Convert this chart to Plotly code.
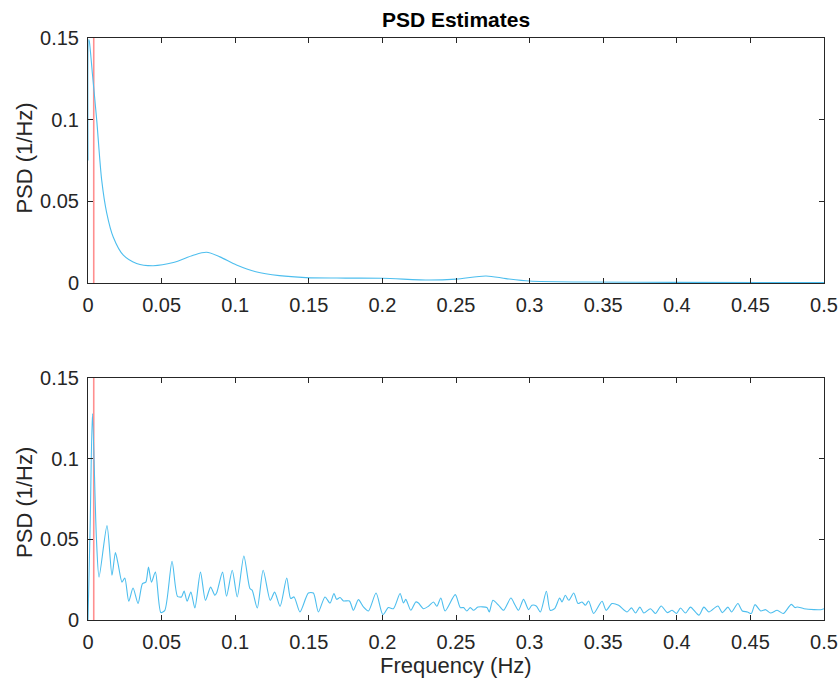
import plotly.graph_objects as go

# ---- data ----
top_freq = [0, 0.0005, 0.0009, 0.003, 0.0059, 0.0093, 0.0127, 0.0172, 0.024, 0.033,
            0.0443, 0.058, 0.0715, 0.0805, 0.0896, 0.1009, 0.114, 0.130, 0.148, 0.175,
            0.2, 0.232, 0.25, 0.2704, 0.284, 0.3, 0.336, 0.4, 0.5]
top_psd = [0.075, 0.149, 0.148, 0.128, 0.100, 0.063, 0.043, 0.028, 0.017, 0.012,
           0.0106, 0.0125, 0.017, 0.0188, 0.016, 0.011, 0.0069, 0.0045, 0.0033, 0.003,
           0.0029, 0.0018, 0.0024, 0.0043, 0.0027, 0.0012, 0.0006, 0.0004, 0.0003]

bot_freq = [0, 0.0015, 0.003, 0.0057, 0.0075, 0.0129, 0.0163, 0.0186, 0.0204, 0.0231,
            0.025, 0.0277, 0.0306, 0.034, 0.037, 0.0393, 0.0411, 0.0431, 0.0458, 0.0495,
            0.0522, 0.0571, 0.0608, 0.0635, 0.0653, 0.0673, 0.0699, 0.0726, 0.0764, 0.0798,
            0.0833, 0.0862, 0.0875, 0.0914, 0.0941, 0.098, 0.1014, 0.1059, 0.11, 0.1115,
            0.115, 0.119, 0.1238, 0.1268, 0.1305, 0.135, 0.1377, 0.1400, 0.144, 0.1497,
            0.1531, 0.1565, 0.161, 0.1644, 0.1671, 0.1689, 0.1712, 0.1735, 0.1776, 0.1803,
            0.1837, 0.1871, 0.1905, 0.1957, 0.2003, 0.2041, 0.2075, 0.212, 0.2143, 0.2159,
            0.2193, 0.2227, 0.2245, 0.2279, 0.2313, 0.2347, 0.2370, 0.2397, 0.2426, 0.2495,
            0.2529, 0.2551, 0.2574, 0.2597, 0.2619, 0.2649, 0.2710, 0.2726, 0.2751, 0.279,
            0.2823, 0.2873, 0.2902, 0.2925, 0.2959, 0.2993, 0.3016, 0.3045, 0.3073, 0.3114,
            0.314, 0.317, 0.3204, 0.322, 0.3243, 0.3266, 0.33, 0.3329, 0.3356, 0.3379,
            0.3401, 0.3435, 0.3492, 0.352, 0.356, 0.3605, 0.3662, 0.3692, 0.372, 0.3749,
            0.3776, 0.3821, 0.3855, 0.3894, 0.3935, 0.3968, 0.3998, 0.4025, 0.4059, 0.4093,
            0.415, 0.4184, 0.4218, 0.4279, 0.4309, 0.4347, 0.4372, 0.4415, 0.4445, 0.448,
            0.4506, 0.4531, 0.457, 0.4604, 0.4637, 0.4682, 0.4724, 0.4778, 0.4803, 0.4819,
            0.4864, 0.4932, 0.4977, 0.5]
bot_psd = [0, 0.06, 0.128, 0.051, 0.0266, 0.0585, 0.0277, 0.0418, 0.035, 0.0235,
           0.026, 0.0116, 0.0198, 0.0102, 0.0225, 0.0235, 0.0328, 0.0235, 0.0297, 0.0046,
           0.006, 0.0364, 0.0147, 0.0143, 0.018, 0.0116, 0.0173, 0.0074, 0.0297, 0.0122,
           0.0204, 0.0153, 0.017, 0.0297, 0.0147, 0.0308, 0.0143, 0.0397, 0.0195, 0.0185,
           0.0074, 0.0308, 0.0122, 0.0173, 0.0085, 0.026, 0.0133, 0.0143, 0.005, 0.0167,
           0.0167, 0.005, 0.0143, 0.0105, 0.0164, 0.0128, 0.0139, 0.0118, 0.0118, 0.006,
           0.0126, 0.0081, 0.0056, 0.0167, 0.0033, 0.0077, 0.0070, 0.0164, 0.0105, 0.0128,
           0.006, 0.0112, 0.0105, 0.007, 0.0085, 0.0112, 0.0085, 0.0136, 0.0056, 0.0157,
           0.0077, 0.0077, 0.0056, 0.0077, 0.006, 0.008, 0.0077, 0.005, 0.0122, 0.0091,
           0.006, 0.0136, 0.0091, 0.006, 0.0128, 0.0064, 0.0091, 0.0087, 0.005, 0.0178,
           0.006, 0.007, 0.0136, 0.0112, 0.0153, 0.0122, 0.0167, 0.0102, 0.0112, 0.0091,
           0.0118, 0.004, 0.0116, 0.006, 0.0102, 0.0091, 0.005, 0.0075, 0.0043, 0.008,
           0.0043, 0.007, 0.004, 0.0087, 0.0046, 0.0060, 0.004, 0.0074, 0.0043, 0.008,
           0.003, 0.008, 0.005, 0.0087, 0.0046, 0.008, 0.005, 0.0102, 0.0056, 0.005,
           0.004, 0.0095, 0.0056, 0.0064, 0.0043, 0.006, 0.004, 0.0097, 0.0077, 0.0081,
           0.007, 0.0064, 0.0064, 0.007]

marker_freq = 0.0039
y_limits = [0, 0.15]
x_limits = [0, 0.5]
x_ticks = [0, 0.05, 0.1, 0.15, 0.2, 0.25, 0.3, 0.35, 0.4, 0.45, 0.5]
x_ticklabels = ["0", "0.05", "0.1", "0.15", "0.2", "0.25", "0.3", "0.35", "0.4", "0.45", "0.5"]
y_ticks = [0, 0.05, 0.1, 0.15]
y_ticklabels = ["0", "0.05", "0.1", "0.15"]

LINE_BLUE = "#4DBEEE"
RED = "#FF8F8F"
AX = "#262626"
FONT = "Liberation Sans, Arial, Helvetica, sans-serif"

fig = go.Figure()
fig.add_trace(go.Scatter(x=[marker_freq, marker_freq], y=y_limits, mode="lines",
                         line=dict(color=RED, width=1.6), xaxis="x", yaxis="y", showlegend=False))
fig.add_trace(go.Scatter(x=top_freq, y=top_psd, mode="lines",
                         line=dict(color=LINE_BLUE, width=1.1, shape="spline", smoothing=0.8),
                         xaxis="x", yaxis="y", showlegend=False))
fig.add_trace(go.Scatter(x=[marker_freq, marker_freq], y=y_limits, mode="lines",
                         line=dict(color=RED, width=1.6), xaxis="x2", yaxis="y2", showlegend=False))
fig.add_trace(go.Scatter(x=bot_freq, y=bot_psd, mode="lines",
                         line=dict(color=LINE_BLUE, width=1.1, shape="spline", smoothing=0.7),
                         xaxis="x2", yaxis="y2", showlegend=False))

axis_common = dict(showgrid=False, zeroline=False, showline=True, linecolor=AX, linewidth=1,
                   mirror="ticks", ticks="inside", ticklen=5, tickcolor=AX, tickwidth=1,
                   automargin=False, ticklabelstandoff=4,
                   tickfont=dict(family=FONT, size=20, color=AX))

# layout geometry (pixels)
FIG_W, FIG_H = 840, 681
M_L, M_R, M_T, M_B = 88, 16, 38, 61
PLOT_W = FIG_W - M_L - M_R
PLOT_H = FIG_H - M_T - M_B
top_dom = [(PLOT_H - 245) / PLOT_H, 1.0]
bot_dom = [0.0, 242 / PLOT_H]
label_font = dict(family=FONT, size=22, color=AX)

ylab_x = (25 - M_L) / PLOT_W
xlab_y = (FIG_H - M_B - 665) / PLOT_H

fig.update_layout(
    width=FIG_W, height=FIG_H,
    margin=dict(l=M_L, r=M_R, t=M_T, b=M_B),
    paper_bgcolor="white", plot_bgcolor="white",
    title=dict(text="<b>PSD Estimates</b>", x=0.5, xref="paper", y=1 - 20 / FIG_H, yref="container",
               xanchor="center", yanchor="middle",
               font=dict(family=FONT, size=21, color="black")),
    xaxis=dict(domain=[0, 1], range=x_limits, tickvals=x_ticks, ticktext=x_ticklabels,
               anchor="y", **axis_common),
    yaxis=dict(domain=top_dom, range=y_limits, tickvals=y_ticks, ticktext=y_ticklabels,
               anchor="x", **axis_common),
    xaxis2=dict(domain=[0, 1], range=x_limits, tickvals=x_ticks, ticktext=x_ticklabels,
                anchor="y2", **axis_common),
    yaxis2=dict(domain=bot_dom, range=y_limits, tickvals=y_ticks, ticktext=y_ticklabels,
                anchor="x2", **axis_common),
    annotations=[
        dict(text="PSD (1/Hz)", xref="paper", yref="paper", x=ylab_x, y=sum(top_dom) / 2 + 0.005,
             textangle=-90, showarrow=False, xanchor="center", yanchor="middle", font=label_font),
        dict(text="PSD (1/Hz)", xref="paper", yref="paper", x=ylab_x, y=sum(bot_dom) / 2 - 0.005,
             textangle=-90, showarrow=False, xanchor="center", yanchor="middle", font=label_font),
        dict(text="Frequency (Hz)", xref="paper", yref="paper", x=0.5, y=xlab_y,
             showarrow=False, xanchor="center", yanchor="middle", font=label_font),
    ],
)

fig.write_html("out.html", config={"displayModeBar": False},
               post_script="document.body.style.margin='0px';")
